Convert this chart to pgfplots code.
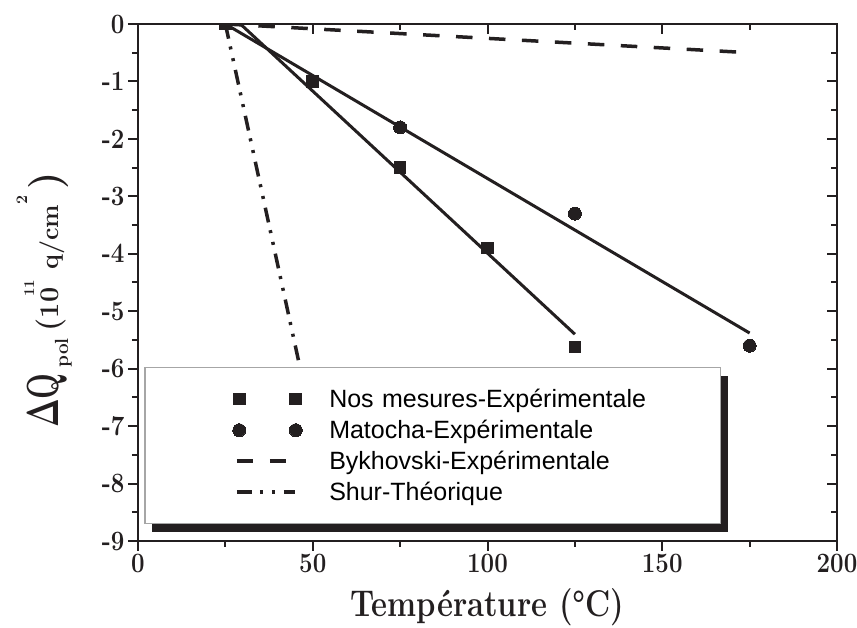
\RequirePackage{fix-cm}
\documentclass[border=0pt]{standalone}
\usepackage[no-math]{fontspec}
\usepackage{graphicx}
\usepackage{pgfplots}
\pgfplotsset{compat=1.18}
\newfontfamily\legfont{Liberation Sans}
\newfontfamily\tickfont{Latin Modern Roman}[FakeStretch=0.86]
\definecolor{ink}{HTML}{231F20}
\pgfplotsset{
  markleg/.style={legend image code/.code={
    \path[draw=none,fill=none] (-94.5pt,-15.5pt) rectangle (90pt,15.5pt);
    \path[##1] plot coordinates {(0pt,0pt) (56.5pt,0pt)};}},
  dashleg/.style={legend image code/.code={
    \path[draw=none,fill=none] (-94.5pt,-15.5pt) rectangle (90pt,15.5pt);
    \draw[##1] (-2.5pt,0pt) -- (47.5pt,0pt);}},
  dotleg/.style={legend image code/.code={
    \path[draw=none,fill=none] (-94.5pt,-15.5pt) rectangle (90pt,15.5pt);
    \draw[##1] (-2.5pt,0pt) -- (55.5pt,0pt);}},
}
\begin{document}
\begin{tikzpicture}
% mirrored inward ticks on top and right
\begin{axis}[
  width=699pt, height=517pt, scale only axis,
  xmin=0, xmax=200, ymin=-9, ymax=0,
  xtick={0,50,...,200}, ytick={-9,-8,...,0},
  minor x tick num=1, minor y tick num=1,
  xtick pos=right, ytick pos=right, tick align=inside,
  xticklabels={}, yticklabels={},
  major tick length=10pt, minor tick length=6pt,
  tick style={ink, line width=2pt},
  axis line style={ink, line width=2.5pt},
]
\end{axis}
\begin{axis}[
  width=699pt, height=517pt, scale only axis,
  xmin=0, xmax=200, ymin=-9, ymax=0,
  xtick={0,50,...,200}, ytick={-9,-8,...,0},
  xticklabels={0,50,100,150,200},
  yticklabels={-9,-8,-7,-6,-5,-4,-3,-2,-1,0},
  minor x tick num=1, minor y tick num=1,
  xtick pos=left, ytick pos=left, tick align=outside,
  major tick length=10pt, minor tick length=6pt,
  tick style={ink, line width=2pt},
  axis line style={ink, line width=2.5pt},
  ticklabel style={font=\tickfont\fontsize{28}{30}\selectfont\bfseries, text=ink},
  clip marker paths=true,
  xlabel={\scalebox{1}[1.2]{Température (°C)}},
  xlabel style={font=\fontsize{31}{34}\selectfont\bfseries, text=ink,
    at={(axis description cs:0.5,-0.147)}, anchor=base, inner sep=0pt},
  ylabel={\scalebox{0.68}[1]{\fontsize{45}{48}\selectfont\boldmath$\Delta$Q}\hspace{6pt}\raisebox{-10pt}{\fontsize{19}{20}\selectfont pol}\hspace{7pt}{\fontsize{30}{32}\selectfont(}{\fontsize{27}{30}\selectfont 10}\hspace{-9pt}\raisebox{24pt}{\fontsize{15}{16}\selectfont 11}\hspace{10pt}{\fontsize{25}{28}\selectfont q/cm}\raisebox{31pt}{\fontsize{16}{17}\selectfont 2}\hspace{6pt}{\fontsize{40}{42}\selectfont)}},
  ylabel style={font=\bfseries, text=ink,
    at={(axis description cs:-0.0944,0.466)}, anchor=south, inner sep=0pt},
  legend cell align=left,
  legend style={at={(axis cs:1.72,-5.97)}, anchor=north west,
    draw=gray!70, line width=1.5pt, fill=white,
    inner xsep=0pt, inner ysep=16pt, row sep=0pt, column sep=0pt,
    font=\legfont\fontsize{25}{28}\selectfont,
    nodes={inner sep=0pt, text width=391pt, text height=24pt, text depth=7pt, align=left}},
]
% legend shadow
\fill[ink] (axis cs:4.0,-6.128) rectangle (axis cs:168.8,-8.844);
% Nos mesures
\addplot[only marks, mark=square*, mark size=5.8pt, mark options={fill=ink, draw=ink, line width=0pt}, markleg]
  coordinates {(25,0) (50,-1.0) (75,-2.5) (100,-3.9) (125,-5.62)};
\addlegendentry{Nos mesures-Expérimentale}
% Matocha
\addplot[only marks, mark=*, mark size=6.5pt, mark options={fill=ink, draw=ink, line width=0pt}, markleg]
  coordinates {(75,-1.8) (125,-3.3) (175,-5.6)};
\addlegendentry{Matocha-Expérimentale}
% Bykhovski
\addplot[ink, line width=3.5pt, dash pattern=on 16.5pt off 16.5pt, dashleg]
  coordinates {(25,0) (172,-0.49)};
\addlegendentry{Bykhovski-Expérimentale}
% Shur
\addplot[ink, line width=3.5pt, dash pattern=on 15pt off 8pt on 3pt off 9pt on 3pt off 9pt, dotleg]
  coordinates {(25,0) (50,-7.0)};
\addlegendentry{Shur-Théorique}
% fits
\addplot[ink, line width=3pt, forget plot] coordinates {(29.3,0) (125,-5.40)};
\addplot[ink, line width=3pt, forget plot] coordinates {(25,0) (175,-5.38)};
\end{axis}
\pgfresetboundingbox
\path (-138pt,-87pt) rectangle (719pt,541pt);
\end{tikzpicture}
\end{document}
